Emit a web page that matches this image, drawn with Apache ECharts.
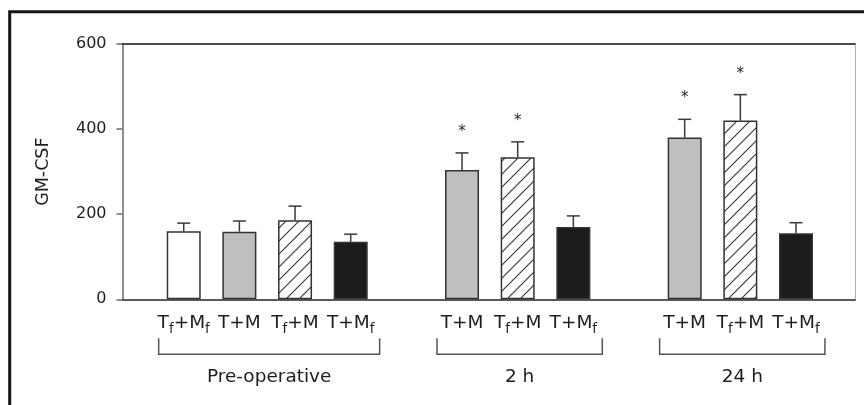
<!DOCTYPE html>
<html>
<head>
<meta charset="utf-8">
<script src="https://cdn.jsdelivr.net/npm/echarts@6/dist/echarts.min.js"></script>
<style>
  html, body { margin: 0; padding: 0; background: #fff; }
  #chart { width: 864px; height: 405px; }
</style>
</head>
<body>
<div id="chart"></div>
<script>
// data
const groupNames = ['Pre-operative', '2 h', '24 h'];
const conditions = [
  ['Tf+Mf', 'T+M', 'Tf+M', 'T+Mf'],
  ['T+M', 'Tf+M', 'T+Mf'],
  ['T+M', 'Tf+M', 'T+Mf']
];
const means = [
  [160, 159, 186, 135],
  [304, 334, 170],
  [380, 420, 155]
];
const sems = [
  [19, 25, 33, 18],
  [40, 36, 26],
  [43, 61, 25]
];
const significant = [
  [0, 0, 0, 0],
  [1, 1, 0],
  [1, 1, 0]
];
const yTicks = [0, 200, 400, 600];

const FONT = 'DejaVu Sans';

function makeHatch() {
  const s = 13;
  const c = document.createElement('canvas');
  c.width = s; c.height = s;
  const g = c.getContext('2d');
  g.fillStyle = '#fff';
  g.fillRect(0, 0, s, s);
  g.strokeStyle = '#333';
  g.lineWidth = 1.1;
  g.beginPath();
  g.moveTo(-1, s + 1); g.lineTo(s + 1, -1);
  g.moveTo(-2, 2); g.lineTo(2, -2);
  g.moveTo(s - 2, s + 2); g.lineTo(s + 2, s - 2);
  g.stroke();
  return c;
}

const fillFor = {
  'Tf+Mf': '#ffffff',
  'T+M': '#bebfc1',
  'Tf+M': { image: makeHatch(), repeat: 'repeat' },
  'T+Mf': '#1c1c1c'
};

// lay the bars out along the axis, one empty slot between groups
const bars = [];
const errs = [];
const brackets = [];
const labelAt = {};
let slot = 0;
conditions.forEach((conds, gi) => {
  const first = slot;
  conds.forEach((cond, i) => {
    bars.push({
      value: [slot, means[gi][i]],
      itemStyle: { color: fillFor[cond] }
    });
    errs.push([slot, means[gi][i], means[gi][i] + sems[gi][i], significant[gi][i]]);
    labelAt[slot] = cond;
    slot++;
  });
  brackets.push([first, slot - 1, gi]);
  slot++;
});
const labelSlots = Object.keys(labelAt).map(Number);

const chart = echarts.init(document.getElementById('chart'), null, { renderer: 'canvas' });

const option = {
  animation: false,
  backgroundColor: '#fff',
  graphic: [{
    type: 'rect',
    shape: { x: 9.7, y: 11.7, width: 1000, height: 1000 },
    style: { fill: 'none', stroke: '#141414', lineWidth: 3 },
    silent: true
  }],
  grid: { left: 122.5, right: 9, top: 44, bottom: 105.7 },
  xAxis: [{
    type: 'value',
    min: -1.1,
    max: 12.06,
    splitLine: { show: false },
    axisLine: { show: true, onZero: false, lineStyle: { color: '#5a5a5a', width: 2 } },
    axisTick: { show: false },
    axisLabel: {
      customValues: labelSlots,
      margin: 10,
      fontFamily: FONT,
      fontSize: 18.5,
      color: '#1e1e1e',
      lineHeight: 27,
      formatter: (v) => {
        const c = labelAt[Math.round(v)];
        return c ? c.replace(/f/g, '{s|f}') : '';
      },
      rich: {
        s: { fontFamily: FONT, fontSize: 13.5, lineHeight: 14, padding: [13, 0, 0, 0], color: '#1e1e1e' }
      }
    }
  }, {
    type: 'value',
    position: 'top',
    min: -1.1,
    max: 12.06,
    splitLine: { show: false },
    axisLine: { show: true, onZero: false, lineStyle: { color: '#111', width: 1.5 } },
    axisTick: { show: false },
    axisLabel: { show: false }
  }],
  yAxis: [{
    type: 'value',
    min: yTicks[0],
    max: yTicks[yTicks.length - 1],
    interval: yTicks[1] - yTicks[0],
    name: 'GM-CSF',
    nameLocation: 'middle',
    nameRotate: 90,
    nameGap: 70,
    nameMoveOverlap: false,
    nameTextStyle: { fontFamily: FONT, fontSize: 17.5, color: '#1e1e1e' },
    splitLine: { show: false },
    axisLine: { show: true, onZero: false, lineStyle: { color: '#6a6a6a', width: 1.5 } },
    axisTick: { show: true, length: 6, lineStyle: { color: '#6a6a6a', width: 1.5 } },
    axisLabel: { margin: 16, fontFamily: FONT, fontSize: 16, color: '#1e1e1e' }
  }, {
    type: 'value',
    position: 'right',
    min: yTicks[0],
    max: yTicks[yTicks.length - 1],
    splitLine: { show: false },
    axisLine: { show: true, onZero: false, lineStyle: { color: '#b0b0b0', width: 1 } },
    axisTick: { show: false },
    axisLabel: { show: false }
  }],
  series: [{
    type: 'bar',
    xAxisIndex: 0,
    yAxisIndex: 0,
    barWidth: 34,
    itemStyle: { borderColor: '#333', borderWidth: 1.5 },
    data: bars,
    z: 2
  }, {
    type: 'custom',
    xAxisIndex: 0,
    yAxisIndex: 0,
    z: 3,
    data: errs,
    renderItem: (params, api) => {
      const x = api.value(0);
      const base = api.coord([x, api.value(1)]);
      const tip = api.coord([x, api.value(2)]);
      const st = { stroke: '#3a3a3a', lineWidth: 1.5 };
      const kids = [
        { type: 'line', shape: { x1: base[0], y1: base[1], x2: tip[0], y2: tip[1] }, style: st },
        { type: 'line', shape: { x1: tip[0] - 6.5, y1: tip[1], x2: tip[0] + 6.5, y2: tip[1] }, style: st }
      ];
      if (api.value(3)) {
        kids.push({
          type: 'text',
          style: {
            text: '*', x: tip[0], y: tip[1] - 21,
            fontFamily: FONT, fontSize: 15, fill: '#1e1e1e',
            align: 'center', verticalAlign: 'middle'
          }
        });
      }
      return { type: 'group', children: kids };
    }
  }, {
    type: 'custom',
    xAxisIndex: 0,
    yAxisIndex: 0,
    z: 3,
    data: brackets,
    renderItem: (params, api) => {
      const left = api.coord([api.value(0) - 0.45, 0]);
      const right = api.coord([api.value(1) + 0.52, 0]);
      const y0 = left[1];
      return {
        type: 'group',
        children: [{
          type: 'polyline',
          shape: { points: [[left[0], y0 + 39], [left[0], y0 + 55], [right[0], y0 + 55], [right[0], y0 + 39]] },
          style: { stroke: '#555', lineWidth: 1.5, fill: 'none' }
        }, {
          type: 'text',
          style: {
            text: groupNames[api.value(2)],
            x: (left[0] + right[0]) / 2, y: y0 + 78,
            fontFamily: FONT, fontSize: 18.5, fill: '#1e1e1e',
            align: 'center', verticalAlign: 'middle'
          }
        }]
      };
    }
  }]
};

chart.setOption(option);
</script>
</body>
</html>
